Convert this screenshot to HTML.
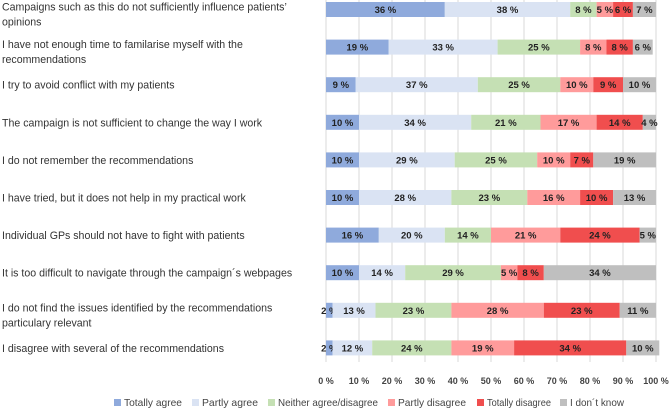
<!DOCTYPE html>
<html><head><meta charset="utf-8"><style>
body{margin:0;background:#fff;}
svg text{font-family:"Liberation Sans",sans-serif;}
</style></head><body>
<svg id="chart" width="669" height="408" xmlns="http://www.w3.org/2000/svg"></svg>
<script>
const categories=["Campaigns such as this do not sufficiently influence patients’|opinions","I have not enough time to familarise myself with the|recommendations","I try to avoid conflict with my patients","The campaign is not sufficient to change the way I work","I do not remember the recommendations","I have tried, but it does not help in my practical work","Individual GPs should not have to fight with patients","It is too difficult to navigate through the campaign´s webpages","I do not find the issues identified by the recommendations|particulary relevant","I disagree with several of the recommendations"];
const seriesNames=["Totally agree","Partly agree","Neither agree/disagree","Partly disagree","Totally disagree","I don´t know"];
const totallyAgree=[36,19,9,10,10,10,16,10,2,2];
const partlyAgree=[38,33,37,34,29,28,20,14,13,12];
const neither=[8,25,25,21,25,23,14,29,23,24];
const partlyDisagree=[5,8,10,17,10,16,21,5,28,19];
const totallyDisagree=[6,8,9,14,7,10,24,8,23,34];
const dontKnow=[7,6,10,4,19,13,5,34,11,10];
const tickLabels=["0 %","10 %","20 %","30 %","40 %","50 %","60 %","70 %","80 %","90 %","100 %"];
const colors=["#8faadc","#dae3f3","#c5e0b4","#ff9b9b","#f04e4e","#bfbfbf"];
const series=[totallyAgree,partlyAgree,neither,partlyDisagree,totallyDisagree,dontKnow];
const svg=document.getElementById('chart');const NS="http://www.w3.org/2000/svg";
const X0=326,X1=656,Y0=9.5,STEP=37.6,BH=15;
const xs=v=>X0+(X1-X0)*v/100;
const ys=i=>Y0+STEP*i;
function mk(t,a){const e=document.createElementNS(NS,t);for(const k in a)e.setAttribute(k,a[k]);svg.appendChild(e);return e;}
tickLabels.forEach((t,i)=>{
 const g=mk('line',{x1:xs(i*10),x2:xs(i*10),y1:0,y2:362,stroke:'#d9d9d9','stroke-width':1});
 
 
 const tx=mk('text',{x:xs(i*10),y:384,'text-anchor':'middle','font-size':9,'font-weight':'bold',fill:'#444'});
 tx.textContent=t;
 
 
});
categories.forEach((c,i)=>{
 const lines=c.split('|');
 lines.forEach((l,j)=>{
  const base=lines.length>1?ys(i)+1+j*15:ys(i)+4;
  const t=mk('text',{x:2,y:base,'font-size':10.6,fill:'#333'});
  t.textContent=l;
  
  
 });
 let acc=0;
 series.forEach((s,k)=>{
  const v=s[i];
  const r=mk('rect',{x:xs(acc),y:ys(i)-BH/2,width:xs(acc+v)-xs(acc),height:BH,fill:colors[k]});
  
  
  const t=mk('text',{x:(xs(acc)+xs(acc+v))/2,y:ys(i)+3.5,'text-anchor':'middle','font-size':9.5,'font-weight':'bold',fill:'#222'});
  t.textContent=v+' %';
  
  
  acc+=v;
 });
});
const legX=[114,192,268,388,477,560];
const legW=[58,56,100,68,64,54];
seriesNames.forEach((n,k)=>{
 const r=mk('rect',{x:legX[k],y:399,width:7,height:7,fill:colors[k]});
 
 
 const t=mk('text',{x:legX[k]+10,y:406,'font-size':10.5,fill:'#444',textLength:legW[k],lengthAdjust:'spacingAndGlyphs'});
 t.textContent=n;
 
 
});
</script>
</body></html>
